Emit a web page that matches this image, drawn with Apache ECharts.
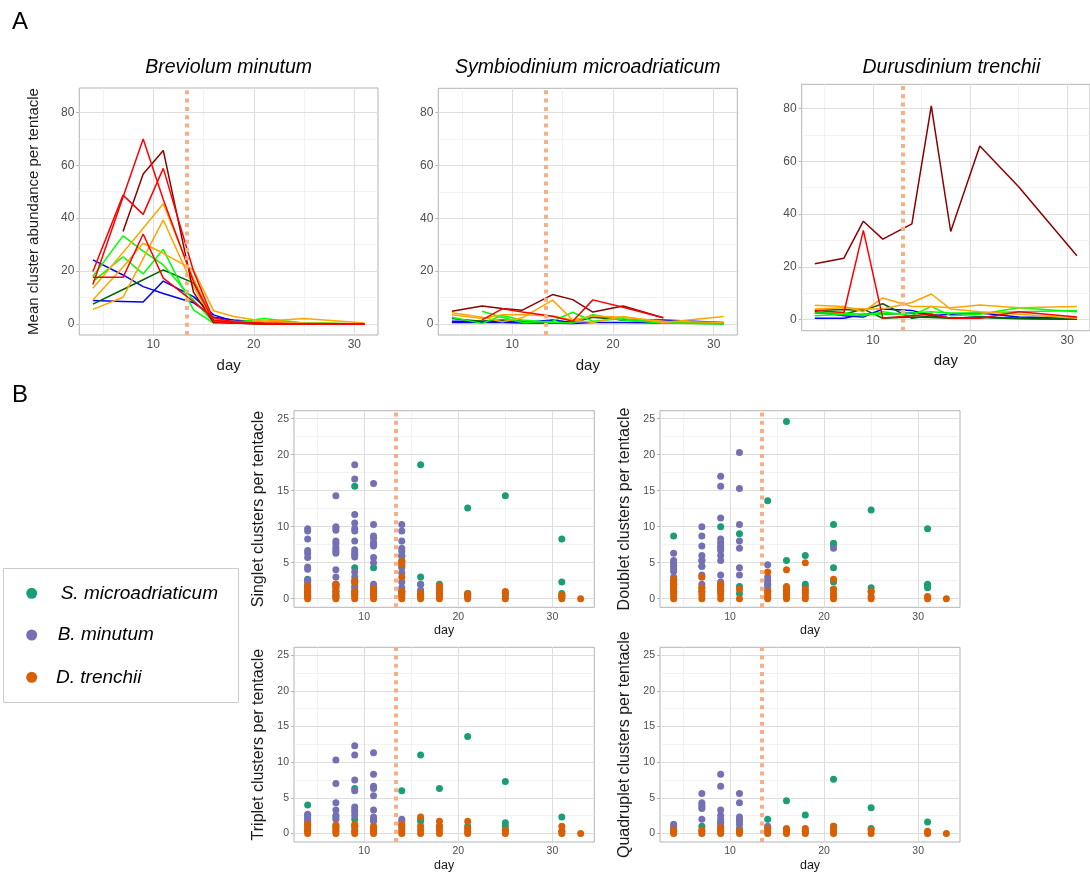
<!DOCTYPE html>
<html>
<head>
<meta charset="utf-8">
<script src="https://cdn.jsdelivr.net/npm/echarts@6/dist/echarts.min.js"></script>
<style>
  html, body { margin: 0; padding: 0; background: #ffffff; }
  #chart { width: 1090px; height: 873px; }
</style>
</head>
<body>
<div id="chart"></div>
<script>
// ---------- Panel A: mean cluster abundance per tentacle, one line per host group ----------
const lineDays = [4, 7, 9, 11, 14, 16, 18, 21, 25, 31];
const panelATitles = ['Breviolum minutum', 'Symbiodinium microadriaticum', 'Durusdinium trenchii'];
const panelAYTicks = [0, 20, 40, 60, 80];
const panelAXTicks = [10, 20, 30];

const breviolumGroups = ['blue', 'blue', 'darkgreen', 'green', 'green', 'orange', 'orange', 'orange', 'darkred', 'red', 'red', 'red'];
const breviolumLines = [
  [24.2, 18.5, 14.1, 11.5, 8.0, 2.5, 1.5, 0.5, 0.2, 0],
  [8.8, 8.5, 8.3, 16.2, 10.3, 3.4, 1.0, 0.3, 0, 0],
  [7.5, 13.0, 16.7, 20.4, 15.5, 0.8, 0.3, 0, 0, 0],
  [17.9, 33.3, 27.5, 22.3, 9.0, 0.5, 0.5, 2.0, 0.3, 0],
  [16.0, 25.4, 18.9, 28.2, 5.3, 0.3, 0.5, 1.0, 0.3, 0],
  [13.5, 27.0, 36.2, 45.4, 17.0, 1.5, 1.0, 0.5, 0.3, 0],
  [5.5, 10.1, 24.7, 39.3, 14.0, 1.0, 0.5, 0.3, 0, 0],
  [9.0, 21.5, 30.5, 26.7, 20.4, 5.0, 2.8, 1.0, 2.0, 0.3],
  [null, 34.9, 56.7, 65.6, 12.0, 0.5, 0.3, 0, 0, 0],
  [19.8, 48.7, 41.4, 58.8, 20.0, 1.5, 0.5, 0.2, 0, 0],
  [14.9, 48.0, 69.9, 47.0, 16.0, 0.8, 0.3, 0, 0, 0],
  [17.6, 17.6, 34.0, 17.3, 8.4, 2.3, 0.8, 0.2, 0, 0]
];

const symbiodiniumGroups = ['blue', 'blue', 'darkgreen', 'green', 'green', 'orange', 'orange', 'darkred', 'red'];
const symbiodiniumLines = [
  [1.0, 1.0, 1.0, 0.5, 1.5, 0.5, 3.3, 1.5, 1.5, 0.5],
  [0.5, 0.5, 0.5, 0.3, 0.3, 0.2, 0.5, 0.5, 0.3, 0.2],
  [2.0, 1.0, 1.5, 1.0, 0.5, 0.5, 2.5, 1.5, 0.5, 0.2],
  [null, 4.8, 2.5, 0.5, 1.0, 4.4, 1.0, 2.0, 0.3, 0],
  [2.5, 0.2, 3.2, 1.5, 0.5, 0.3, 3.5, 1.5, 0.3, 0.3],
  [4.2, 2.5, 0.8, 2.3, 9.0, 1.5, 0.5, 2.8, 0.5, 2.8],
  [3.5, 2.0, 3.5, 3.5, 3.0, 1.5, 3.0, 2.5, 1.0, 0.5],
  [4.8, 6.8, 5.8, 5.2, 11.1, 9.2, 4.5, 6.8, 2.3, null],
  [null, 1.5, 5.7, 4.5, 2.9, 1.0, 9.1, 6.3, 2.3, null]
];

const durusdiniumGroups = ['blue', 'blue', 'darkgreen', 'darkgreen', 'green', 'green', 'orange', 'orange', 'darkred', 'red'];
const durusdiniumLines = [
  [3.0, 1.5, 1.0, 4.0, 3.5, 1.5, 2.0, 2.5, 1.0, 0.5],
  [0.5, 0.5, 2.0, 2.0, 2.5, 2.0, 0.5, 1.0, 0.5, 0.2],
  [3.5, 3.8, 3.5, 6.0, 0.5, 1.5, 0.5, 1.0, 0.5, 0.2],
  [2.5, 2.0, 4.0, 0.5, 1.0, 0.8, 0.5, 0.8, 0.3, 0.1],
  [1.5, 2.0, 1.5, 3.0, 1.5, 5.0, 1.5, 2.0, 4.5, 3.0],
  [2.5, 2.5, 2.0, 2.0, 2.5, 3.0, 2.5, 2.5, 3.0, 3.5],
  [5.4, 5.0, 3.0, 8.2, 5.0, 5.0, 4.5, 5.5, 4.5, 5.0],
  [4.0, 4.5, 4.0, 4.0, 6.5, 9.7, 4.0, 3.0, 2.0, 0.5],
  [21.2, 23.3, 37.3, 30.5, 36.3, 81.0, 33.4, 65.8, 50.4, 24.2],
  [3.5, 2.7, 33.8, 0.6, 1.5, 2.0, 0.5, 0.5, 3.0, 1.0]
];

// ---------- Panel B: clusters per tentacle by cluster size ----------
const scatterDays = [4, 7, 9, 11, 14, 16, 18, 21, 25, 31, 33];
const speciesNames = ['S. microadriaticum', 'B. minutum', 'D. trenchii'];
const clusterTitles = ['Singlet clusters per tentacle', 'Doublet clusters per tentacle',
                       'Triplet clusters per tentacle', 'Quadruplet clusters per tentacle'];
const panelBYTicks = [0, 5, 10, 15, 20, 25];
const panelBXTicks = [10, 20, 30];

const singletMicro = [
  [2.7, 2.2, 1.5, 0.5, 0.2], [2.0, 1.0, 0.5, 0.2], [15.6, 4.3, 2.3, 1.7, 1.0, 0.5], [4.3, 1.7, 1.2, 0.5],
  [6.0, 5.3, 1.0, 0.5], [18.6, 3.0, 2.0, 1.0, 0.5], [2.0, 1.5, 0.5], [12.6, 0.7, 0.3], [14.3, 0.7, 0.3],
  [8.3, 2.3, 0.7, 0.3], []
];
const singletMinutum = [
  [9.7, 9.4, 8.3, 6.7, 6.3, 5.7, 4.4, 4.1, 2.6, 2.4, 1.8, 1.2, 0.8, 0.4],
  [14.3, 10.0, 9.8, 9.5, 8.0, 7.7, 7.2, 6.9, 6.6, 6.3, 4.0, 3.0, 2.0, 1.5, 1.0],
  [18.6, 16.6, 11.7, 10.5, 9.7, 9.4, 8.0, 6.8, 6.4, 6.1, 5.8, 3.7, 3.0, 2.5, 1.5, 1.0],
  [16.0, 10.3, 8.7, 8.4, 7.8, 7.5, 7.3, 5.7, 5.0, 2.0, 1.0],
  [10.3, 9.4, 8.0, 7.0, 6.6, 5.9, 5.0, 4.5, 4.3, 3.6, 2.3, 1.5, 1.0],
  [2.0, 1.2, 0.5], [1.0, 0.5], [], [], [], []
];
const singletTrenchii = [
  [1.8, 1.5, 1.2, 1.0, 0.8, 0.5, 0.3, 0], [2.0, 1.8, 1.5, 1.0, 0.5, 0.3, 0], [2.4, 2.2, 1.0, 0.7, 0.3, 0],
  [1.4, 1.0, 0.7, 0.3, 0], [5.2, 4.8, 3.0, 1.0, 0.7, 0.3, 0], [0.8, 0.5, 0.3, 0], [1.8, 1.3, 0.8, 0.3, 0],
  [0.7, 0.5, 0.3, 0], [1.0, 0.8, 0], [0.5, 0.3, 0], [0]
];

const doubletMicro = [
  [8.7, 2.0, 1.0], [5.3, 4.5, 1.0], [10.0, 2.0, 1.0], [9.0, 1.7, 0.7], [13.6, 2.0, 1.0], [24.6, 5.3, 1.3, 0.5],
  [6.0, 2.0, 1.7], [10.3, 7.7, 7.5, 4.3, 2.3, 1.3], [12.3, 1.5, 1.0], [9.7, 2.0, 1.8, 1.5], []
];
const doubletMinutum = [
  [6.3, 5.3, 5.0, 4.8, 4.5, 4.2, 3.8, 3.0, 2.5, 2.0, 1.5],
  [10.0, 8.7, 7.3, 6.0, 5.3, 4.5, 3.3, 3.0, 2.0, 1.5],
  [17.0, 15.6, 11.2, 8.3, 7.8, 7.3, 7.0, 6.7, 6.0, 5.3, 3.3, 2.3, 1.7],
  [20.3, 15.3, 10.3, 8.0, 7.0, 4.3, 3.3],
  [4.7, 3.0, 2.5, 2.0, 1.5], [1.0, 0.5], [], [7.0], [], [], []
];
const doubletTrenchii = [
  [2.7, 2.3, 2.0, 1.7, 1.3, 1.0, 0.7, 0.3, 0], [3.0, 1.5, 1.0, 0.5, 0], [2.0, 1.7, 1.3, 1.0, 0.5, 0], [1.3, 0],
  [3.7, 1.0, 0.7, 0.3, 0], [4.0, 1.7, 1.3, 0.7, 0.3, 0], [5.0, 1.3, 1.0, 0.7, 0.3, 0], [2.7, 1.3, 0.7, 0.3, 0],
  [1.0, 0.3, 0], [0.3, 0], [0]
];

const tripletMicro = [
  [4.0, 0.5], [2.3, 1.0], [6.3, 2.0, 1.0], [2.0, 0.5], [6.0, 1.0], [11.0, 2.0, 1.7], [6.3, 1.0], [13.6, 1.0],
  [7.3, 1.5, 1.0, 0.5], [2.3, 0.3], []
];
const tripletMinutum = [
  [2.7, 2.5, 2.2, 2.0, 1.7, 1.5], [10.3, 7.0, 4.3, 3.3, 2.5, 2.0], [12.3, 11.0, 7.5, 6.0, 3.7, 3.3, 3.0, 2.5],
  [11.3, 8.3, 6.6, 6.3, 5.3, 3.3, 2.3, 1.7], [2.0, 1.7], [], [], [], [], [], []
];
const tripletTrenchii = [
  [1.3, 1.0, 0.7, 0.3, 0], [1.2, 0.8, 0.5, 0.3, 0], [1.3, 1.0, 0.5, 0.3, 0], [1.0, 0.7, 0.3, 0], [1.3, 0.7, 0.3, 0],
  [2.3, 1.0, 0.5, 0], [1.7, 1.0, 0.5, 0], [1.7, 0.7, 0.3, 0], [0.5, 0.3, 0], [1.0, 0.3, 0], [0]
];

const quadrupletMicro = [[0.3], [1.0], [1.5], [0.3], [2.0], [4.6, 0.5], [2.6, 0.3], [7.6, 1.0], [3.6, 0.7], [1.6], []];
const quadrupletMinutum = [
  [1.3, 1.0, 0.7, 0.5], [5.6, 4.3, 4.0, 3.7, 3.5, 2.0], [8.3, 6.6, 3.3, 2.5, 2.0, 1.5, 1.0],
  [5.6, 4.3, 2.3, 2.0, 1.7, 1.3, 0.7], [1.0, 0.7], [], [], [], [], [], []
];
const quadrupletTrenchii = [
  [0.5, 0.3, 0], [0.5, 0.3, 0], [0.8, 0.5, 0.3, 0], [0.3, 0], [0.7, 0.3, 0], [0.7, 0.3, 0], [0.7, 0.3, 0],
  [1.0, 0.7, 0.3, 0], [0.5, 0], [0.3, 0], [0]
];

// Day marking the treatment switch, drawn as a dotted vertical line
const switchDayA = [13.3, 13.3, 13.1];
const switchDayB = 13.33;

// ---------- styling ----------
const FONT = '"Liberation Sans", Arial, Helvetica, sans-serif';
const TEXT = '#4D4D4D';
const BORDER = '#B3B3B3';
const MAJOR = '#DEDEDE';
const MINOR = '#EDEDED';
const SWITCH = '#F6B088';
const groupColour = {
  red: '#FF0000', darkred: '#8B0000', orange: '#FFA500',
  green: '#00FF00', darkgreen: '#006400', blue: '#0000FF'
};
const speciesColour = ['#1B9E77', '#7570B3', '#D95F02'];

const gridsA = [
  { left: 79.3, top: 88, width: 298.7, height: 247 },
  { left: 438.3, top: 88.3, width: 299, height: 246.7 },
  { left: 801.7, top: 84.3, width: 299.4, height: 246.4 }
];
const gridsB = [
  { left: 294, top: 410.7, width: 300.3, height: 196.6 },
  { left: 660, top: 410.7, width: 300, height: 196.6 },
  { left: 294, top: 647.3, width: 300.3, height: 198.4 },
  { left: 660, top: 647.3, width: 300, height: 198.4 }
];
const rangeAX = [2.65, 32.35], rangeAY = [-4.2, 89.2];
const rangeBX = [2.55, 34.45], rangeBY = [-1.2, 26.1];

const grid = [], xAxis = [], yAxis = [], series = [], graphic = [];

function addGrid(box) {
  grid.push(Object.assign({ show: true, borderColor: BORDER, borderWidth: 1, backgroundColor: 'transparent', containLabel: false }, box));
  return grid.length - 1;
}

function axisDef(gi, range, ticks, labelSize, margin, extra) {
  return Object.assign({
    type: 'value', gridIndex: gi, min: range[0], max: range[1],
    splitLine: { show: false }, axisLine: { show: false },
    axisTick: { show: true, customValues: ticks, length: 3, lineStyle: { color: BORDER, width: 1 } },
    axisLabel: { customValues: ticks, color: TEXT, fontSize: labelSize, fontFamily: FONT, margin: margin },
    nameTextStyle: { color: '#1A1A1A', fontFamily: FONT }
  }, extra || {});
}

// grid lines (major and minor) drawn beneath the data
function gridLineSeries(gi, xMajor, xMinor, yMajor, yMinor) {
  const d = [];
  xMinor.forEach(v => d.push({ xAxis: v, lineStyle: { color: MINOR, width: 0.7, type: 'solid' } }));
  yMinor.forEach(v => d.push({ yAxis: v, lineStyle: { color: MINOR, width: 0.7, type: 'solid' } }));
  xMajor.forEach(v => d.push({ xAxis: v, lineStyle: { color: MAJOR, width: 1.1, type: 'solid' } }));
  yMajor.forEach(v => d.push({ yAxis: v, lineStyle: { color: MAJOR, width: 1.1, type: 'solid' } }));
  return {
    type: 'line', xAxisIndex: gi, yAxisIndex: gi, data: [], silent: true, z: 1,
    markLine: { silent: true, symbol: 'none', z: 1, animation: false, label: { show: false }, data: d }
  };
}

function switchSeries(gi, day) {
  return {
    type: 'line', xAxisIndex: gi, yAxisIndex: gi, data: [], silent: true, z: 6,
    markLine: {
      silent: true, symbol: 'none', z: 6, animation: false, label: { show: false },
      lineStyle: { color: SWITCH, width: 4, type: [4, 4.3], cap: 'butt' },
      data: [{ xAxis: day }]
    }
  };
}

// ----- Panel A grids -----
const linesA = [breviolumLines, symbiodiniumLines, durusdiniumLines];
const groupsA = [breviolumGroups, symbiodiniumGroups, durusdiniumGroups];
gridsA.forEach((box, p) => {
  const gi = addGrid(box);
  xAxis.push(axisDef(gi, rangeAX, panelAXTicks, 12, 4, {
    name: 'day', nameLocation: 'middle', nameGap: 23,
    nameTextStyle: { color: '#1A1A1A', fontFamily: FONT, fontSize: 15 }
  }));
  yAxis.push(axisDef(gi, rangeAY, panelAYTicks, 12, 5, p === 0 ? {
    name: 'Mean cluster abundance per tentacle', nameLocation: 'middle', nameGap: 38, nameRotate: 90,
    nameTextStyle: { color: '#1A1A1A', fontFamily: FONT, fontSize: 15 }
  } : {}));
  series.push(gridLineSeries(gi, [10, 20, 30], [5, 15, 25], [0, 20, 40, 60, 80], [10, 30, 50, 70]));
  linesA[p].forEach((vals, k) => {
    const pts = [];
    vals.forEach((v, i) => { if (v !== null) pts.push([lineDays[i], v]); });
    series.push({
      type: 'line', xAxisIndex: gi, yAxisIndex: gi, data: pts, symbol: 'none', silent: true, z: 3,
      lineStyle: { color: groupColour[groupsA[p][k]], width: 1.5 }, animation: false
    });
  });
  series.push(switchSeries(gi, switchDayA[p]));
  graphic.push({
    type: 'text', x: box.left + box.width / 2, y: 68, silent: true,
    style: {
      text: panelATitles[p], fontSize: 19.5, fontStyle: 'italic',
      fontFamily: FONT, fill: '#000', align: 'center', verticalAlign: 'middle', textAlign: 'center', textVerticalAlign: 'middle'
    }
  });
});

// ----- Panel B grids -----
const clusterData = [
  [singletMicro, singletMinutum, singletTrenchii],
  [doubletMicro, doubletMinutum, doubletTrenchii],
  [tripletMicro, tripletMinutum, tripletTrenchii],
  [quadrupletMicro, quadrupletMinutum, quadrupletTrenchii]
];
gridsB.forEach((box, p) => {
  const gi = addGrid(box);
  xAxis.push(axisDef(gi, rangeBX, panelBXTicks, 10.5, 4, {
    name: 'day', nameLocation: 'middle', nameGap: 17,
    nameTextStyle: { color: '#1A1A1A', fontFamily: FONT, fontSize: 12.5 }
  }));
  yAxis.push(axisDef(gi, rangeBY, panelBYTicks, 10.5, 5, {
    name: clusterTitles[p], nameLocation: 'middle', nameGap: 27, nameRotate: 90,
    nameTextStyle: { color: '#1A1A1A', fontFamily: FONT, fontSize: 16 }
  }));
  series.push(gridLineSeries(gi, [10, 20, 30], [5, 15, 25], [0, 5, 10, 15, 20, 25], [2.5, 7.5, 12.5, 17.5, 22.5]));
  clusterData[p].forEach((byDay, s) => {
    const pts = [];
    byDay.forEach((vals, i) => vals.forEach(v => pts.push([scatterDays[i], v])));
    series.push({
      type: 'scatter', name: speciesNames[s], xAxisIndex: gi, yAxisIndex: gi, data: pts, silent: true, z: 3 + s,
      symbol: 'circle', symbolSize: 7, itemStyle: { color: speciesColour[s], opacity: 1 }, animation: false
    });
  });
  series.push(switchSeries(gi, switchDayB));
});

// ----- panel letters and species key -----
graphic.push(
  { type: 'text', x: 12, y: 22, silent: true, style: { text: 'A', fontSize: 24, fontFamily: FONT, fill: '#000', verticalAlign: 'middle', textVerticalAlign: 'middle' } },
  { type: 'text', x: 12, y: 395, silent: true, style: { text: 'B', fontSize: 24, fontFamily: FONT, fill: '#000', verticalAlign: 'middle', textVerticalAlign: 'middle' } },
  { type: 'rect', silent: true, shape: { x: 3.5, y: 568.5, width: 235, height: 134 }, style: { fill: 'none', stroke: '#CCCCCC', lineWidth: 1 } }
);
const keyY = [593.3, 635, 677.3];
const keyTextX = [60.7, 57.7, 56];
speciesNames.forEach((nm, s) => {
  graphic.push(
    { type: 'circle', silent: true, shape: { cx: 31.7, cy: keyY[s], r: 5.5 }, style: { fill: speciesColour[s] } },
    { type: 'text', silent: true, x: keyTextX[s], y: keyY[s], style: {
        text: nm, fontSize: 19, fontStyle: 'italic', fontFamily: FONT, fill: '#000',
        align: 'left', verticalAlign: 'middle', textAlign: 'left', textVerticalAlign: 'middle' } }
  );
});

const chart = echarts.init(document.getElementById('chart'), null, { renderer: 'canvas' });
chart.setOption({
  backgroundColor: '#ffffff',
  animation: false,
  grid: grid, xAxis: xAxis, yAxis: yAxis, series: series, graphic: graphic
});
</script>
</body>
</html>
